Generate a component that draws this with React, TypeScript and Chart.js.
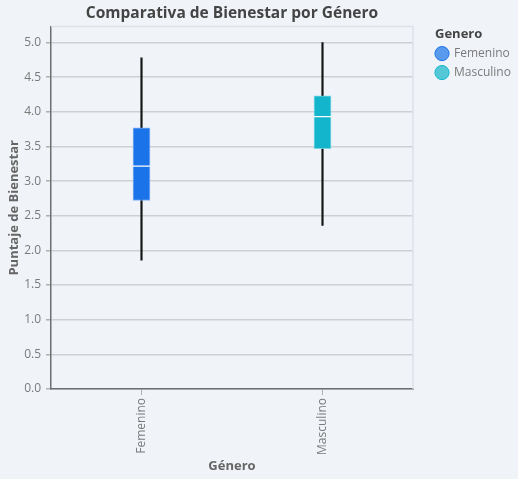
import React, { useEffect, useRef } from "react";
import { Chart, registerables } from "chart.js";

Chart.register(...registerables);

const categories = ["Femenino", "Masculino"];
const whiskerLow = [1.86, 2.36];
const q1 = [2.72, 3.47];
const median = [3.215, 3.93];
const q3 = [3.77, 4.23];
const whiskerHigh = [4.78, 5.0];
const yTicks = [0, 0.5, 1, 1.5, 2, 2.5, 3, 3.5, 4, 4.5, 5];

const boxColors = ["#1a73e8", "#12b5cb"];
const legendFill = ["rgba(26,115,232,0.7)", "rgba(18,181,203,0.7)"];

const FONT = "'Open Sans', 'Noto Sans', sans-serif";
const LEGEND_WIDTH = 105;
const LEGEND_SHIFT = 16;
const LEGEND_TITLE_INDENT = 6;

const frame = {
  id: "frame",
  beforeDatasetsDraw(chart: any) {
    const { ctx, chartArea: a } = chart;
    ctx.save();
    ctx.strokeStyle = "#dde1e6";
    ctx.lineWidth = 1.5;
    ctx.beginPath();
    ctx.moveTo(a.left, a.top);
    ctx.lineTo(a.right, a.top);
    ctx.lineTo(a.right, a.bottom);
    ctx.stroke();
    ctx.restore();
  },
};

const legendPlace = {
  id: "legendPlace",
  afterLayout(chart: any) {
    const lg = chart.legend;
    if (lg) {
      lg.left += LEGEND_SHIFT;
      lg.right += LEGEND_SHIFT;
    }
  },
};

export default function App() {
  const ref = useRef<HTMLCanvasElement | null>(null);
  useEffect(() => {
    document.body.style.margin = "0";
    document.body.style.background = "#f0f3f8";
    const chart = new Chart(ref.current as HTMLCanvasElement, {
      type: "bar",
      data: {
        labels: categories,
        datasets: [
          {
            type: "line",
            label: "Mediana",
            data: median,
            showLine: false,
            pointStyle: "line",
            pointRadius: 8.5,
            pointHoverRadius: 8.5,
            pointBorderColor: "#ffffff",
            pointBorderWidth: 1.2,
            order: 0,
          } as any,
          {
            label: "Caja",
            data: categories.map((_, i) => [q1[i], q3[i]]),
            backgroundColor: boxColors,
            borderColor: ["rgba(120,170,245,0.9)", "rgba(110,210,225,0.9)"],
            borderWidth: 1,
            borderSkipped: false,
            barThickness: 17,
            grouped: false,
            order: 1,
          } as any,
          {
            label: "Bigotes",
            data: categories.map((_, i) => [whiskerLow[i], whiskerHigh[i]]),
            backgroundColor: "#141414",
            borderWidth: 0,
            barThickness: 1.5,
            grouped: false,
            order: 2,
          } as any,
        ],
      },
      options: {
        animation: false,
        responsive: false,
        layout: { padding: 0 },
        plugins: {
          title: {
            display: true,
            text: "Comparativa de Bienestar por Género",
            fullSize: false,
            color: "#444444",
            font: { family: FONT, size: 15.5, weight: "bold" },
            padding: { top: 4, bottom: 4 },
          },
          legend: {
            position: "right",
            align: "start",
            title: {
              display: true,
              text: "Genero",
              position: "start",
              color: "#444444",
              font: { family: FONT, size: 13, weight: "bold" },
              padding: { top: 28, bottom: -3 },
            },
            labels: {
              usePointStyle: true,
              boxWidth: 12,
              boxHeight: 10,
              padding: 7,
              color: "#7a7a7a",
              font: { family: FONT, size: 12 },
              generateLabels: () =>
                categories.map((c, i) => ({
                  text: c,
                  fillStyle: legendFill[i],
                  strokeStyle: boxColors[i],
                  lineWidth: 1,
                  pointStyle: "circle",
                  hidden: false,
                  datasetIndex: 1,
                  fontColor: "#7a7a7a",
                })),
            },
            onClick: () => {},
          },
          tooltip: { enabled: false },
        },
        scales: {
          x: {
            offset: true,
            grid: {
              offset: false,
              drawOnChartArea: false,
              drawTicks: true,
              tickLength: 6,
              tickColor: "#b0b0b0",
            },
            border: { display: true, color: "#6e6e6e", width: 1.5 },
            ticks: {
              color: "#7a7a7a",
              font: { family: FONT, size: 12 },
              maxRotation: 90,
              minRotation: 90,
              padding: 3,
            },
            title: {
              display: true,
              text: "Género",
              color: "#666666",
              font: { family: FONT, size: 13, weight: "bold" },
              padding: { top: 2, bottom: 5 },
            },
            afterFit: (s: any) => {
              s.height = 90;
            },
          },
          y: {
            min: 0,
            max: 5.23,
            afterBuildTicks: (s: any) => {
              s.ticks = yTicks.map((v) => ({ value: v }));
            },
            grid: {
              color: "#cdd1d6",
              lineWidth: 1.5,
              tickLength: 5,
              tickColor: "#b0b0b0",
            },
            border: { display: true, color: "#6e6e6e", width: 1.5 },
            ticks: {
              color: "#7a7a7a",
              font: { family: FONT, size: 12 },
              padding: 5,
              callback: (v: any) => Number(v).toFixed(1),
            },
            title: {
              display: true,
              text: "Puntaje de Bienestar",
              color: "#666666",
              font: { family: FONT, size: 13, weight: "bold" },
              padding: { top: 6, bottom: 2 },
            },
            afterFit: (s: any) => {
              s.width = 51;
            },
          },
        },
      },
      plugins: [frame, legendPlace],
    } as any);
    const lg: any = (chart as any).legend;
    if (lg) {
      const fit0 = lg.fit.bind(lg);
      lg.fit = () => {
        fit0();
        lg.width = LEGEND_WIDTH;
      };
      if (typeof lg.drawTitle === "function") {
        const drawTitle0 = lg.drawTitle.bind(lg);
        lg.drawTitle = () => {
          const l = lg.left;
          lg.left = l + LEGEND_TITLE_INDENT;
          drawTitle0();
          lg.left = l;
        };
      }
      chart.update();
    }
    return () => chart.destroy();
  }, []);
  return (
    <div style={{ width: 518, height: 479 }}>
      <canvas ref={ref} width={518} height={479} />
    </div>
  );
}
